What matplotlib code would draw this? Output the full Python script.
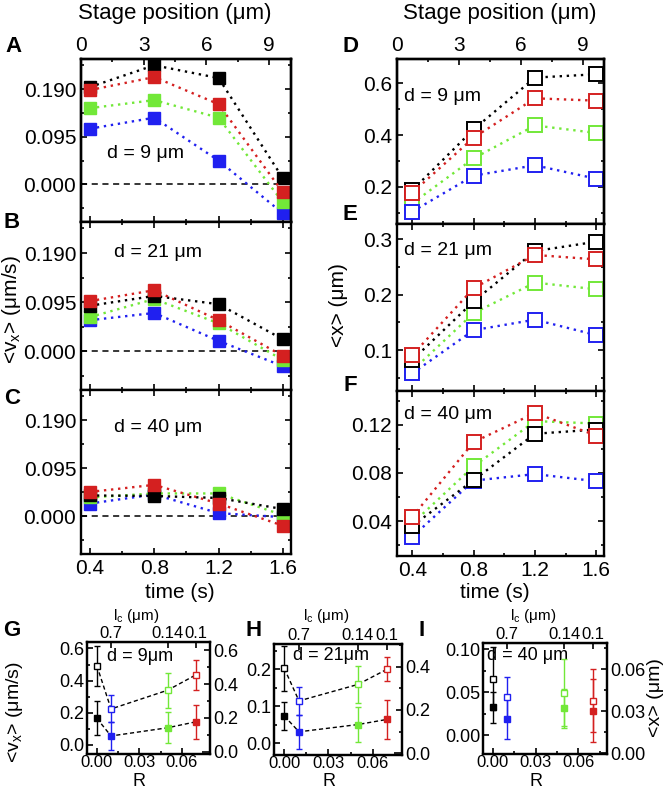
import matplotlib
matplotlib.use("Agg")
import matplotlib.pyplot as plt
from matplotlib.ticker import MultipleLocator

plt.rcParams['font.family'] = ['Liberation Sans', 'DejaVu Sans']
plt.rcParams['mathtext.fontset'] = 'custom'
plt.rcParams['mathtext.rm'] = 'Liberation Sans'
plt.rcParams['mathtext.it'] = 'Liberation Sans:italic'

# ---- data -------------------------------------------------------------
times = [0.4, 0.8, 1.2, 1.6]
series_names = ['blue', 'green', 'black', 'red']

# <vx> (um/s), filled squares, panels A-C
vx_d9 = {'black': [0.194, 0.2375, 0.212, 0.012],
         'red': [0.188, 0.214, 0.160, -0.016],
         'green': [0.152, 0.168, 0.133, -0.036],
         'blue': [0.111, 0.133, 0.0475, -0.058]}
vx_d21 = {'black': [0.088, 0.107, 0.091, 0.023],
          'red': [0.097, 0.118, 0.060, -0.009],
          'green': [0.066, 0.101, 0.054, -0.017],
          'blue': [0.060, 0.074, 0.020, -0.029]}
vx_d40 = {'black': [0.041, 0.040, 0.036, 0.014],
          'red': [0.048, 0.062, 0.025, -0.019],
          'green': [0.037, 0.045, 0.045, 0.002],
          'blue': [0.025, 0.043, 0.006, -0.002]}

# <x> (um), open squares, panels D-F
x_d9 = {'black': [0.187, 0.422, 0.622, 0.635],
        'red': [0.177, 0.390, 0.542, 0.533],
        'green': [0.136, 0.310, 0.437, 0.408],
        'blue': [0.104, 0.243, 0.283, 0.231]}
x_d21 = {'black': [0.082, 0.188, 0.279, 0.296],
         'red': [0.091, 0.212, 0.272, 0.264],
         'green': [0.063, 0.167, 0.222, 0.210],
         'blue': [0.058, 0.136, 0.155, 0.127]}
x_d40 = {'black': [0.036, 0.074, 0.1125, 0.116],
         'red': [0.0436, 0.1056, 0.1297, 0.111],
         'green': [0.038, 0.0855, 0.123, 0.121],
         'blue': [0.027, 0.0736, 0.079, 0.0731]}

# panels G-I : order black, blue, green, red
R = [0.0, 0.01, 0.05, 0.07]
lc_ticks = [0.01, 0.05, 0.07]
lc_labels = ['0.7', '0.14', '0.1']

vx_g = [0.165, 0.056, 0.107, 0.144]
vx_g_err = [0.106, 0.086, 0.097, 0.105]
x_g = [0.509, 0.253, 0.364, 0.455]
x_g_err = [0.120, 0.080, 0.105, 0.087]

vx_h = [0.074, 0.0315, 0.051, 0.065]
vx_h_err = [0.038, 0.045, 0.046, 0.053]
x_h = [0.392, 0.242, 0.318, 0.389]
x_h_err = [0.102, 0.066, 0.087, 0.055]

vx_i = [0.0323, 0.0183, 0.0311, 0.0284]
vx_i_err = [0.018, 0.0233, 0.0225, 0.0366]
x_i = [0.0531, 0.0398, 0.0433, 0.0376]
x_i_err = [0.0226, 0.0145, 0.024, 0.0226]

colors = {'black': '#000000', 'red': '#d42020', 'green': '#72e838', 'blue': '#2020f0'}
bottom_order = ['black', 'blue', 'green', 'red']

W, H = 664, 790
fig = plt.figure(figsize=(W / 100, H / 100), dpi=100)


def box(left, right, top, bottom):
    return [left / W, 1 - bottom / H, (right - left) / W, (bottom - top) / H]


def style(ax, size=15, lw=1.7):
    for s in ax.spines.values():
        s.set_linewidth(lw)
    ax.tick_params(which='both', direction='in', width=1.2, labelsize=size)
    ax.tick_params(which='major', length=4.5)
    ax.tick_params(which='minor', length=2.5)


def stage_axis(ax, xmax):
    top = ax.twiny()
    top.set_xlim(0, xmax)
    top.set_xticks([0, 3, 6, 9])
    top.xaxis.set_minor_locator(MultipleLocator(1.5))
    style(top)
    top.tick_params(pad=3)
    return top


# ---- panels A-C -------------------------------------------------------
left_rows = [(59, 222, vx_d9, 'd = 9 μm', (0.305, 0.42)),
             (222, 390, vx_d21, 'd = 21 μm', (0.367, 0.82)),
             (390, 554, vx_d40, 'd = 40 μm', (0.367, 0.77))]
for k, (t, b, data, lab, pos) in enumerate(left_rows):
    ax = fig.add_axes(box(81, 291, t, b))
    ax.axhline(0, color='k', lw=1.1, ls=(0, (4, 3)), zorder=1)
    for name in series_names:
        ax.plot(times, data[name], ls=(0, (1, 2)), lw=1.7, color=colors[name],
                marker='s', ms=8.5, mec=colors[name], mfc=colors[name])
    ax.set_xlim(0.345, 1.65)
    ax.set_ylim(-0.075, 0.25)
    ax.set_yticks([0.0, 0.095, 0.19])
    ax.set_yticklabels(['0.000', '0.095', '0.190'])
    ax.yaxis.set_minor_locator(MultipleLocator(0.0475))
    ax.set_xticks(times)
    ax.set_xticklabels(['0.4', '0.8', '1.2', '1.6'])
    ax.xaxis.set_minor_locator(MultipleLocator(0.2))
    ax.text(pos[0], pos[1], lab, transform=ax.transAxes, ha='center',
            va='center', fontsize=14)
    if k == 0:
        stage_axis(ax, 10.05)
        style(ax)
        ax.tick_params(which='both', top=False, right=True)
    else:
        style(ax)
        ax.tick_params(which='both', top=True, right=True)
    if k < 2:
        ax.set_xticklabels([])

# ---- panels D-F -------------------------------------------------------
right_rows = [(59, 224, x_d9, 'd = 9 μm', 0.775, (0.056, 0.694),
               [0.2, 0.4, 0.6], 0.1),
              (224, 391, x_d21, 'd = 21 μm', 0.84, (0.026, 0.328),
               [0.1, 0.2, 0.3], 0.05),
              (391, 556, x_d40, 'd = 40 μm', 0.86, (0.011, 0.148),
               [0.04, 0.08, 0.12], 0.02)]
for k, (t, b, data, lab, ty, ylim, yt, ym) in enumerate(right_rows):
    ax = fig.add_axes(box(397, 604, t, b))
    for name in ['green', 'blue', 'black', 'red']:
        ax.plot(times, data[name], ls=(0, (1, 2)), lw=1.7, color=colors[name],
                marker='s', ms=9.5, mec=colors[name], mfc='white', mew=1.4)
    ax.set_xlim(0.30, 1.65)
    ax.set_ylim(*ylim)
    ax.set_yticks(yt)
    ax.set_yticklabels([f'{v:g}' for v in yt])
    ax.yaxis.set_minor_locator(MultipleLocator(ym))
    ax.set_xticks(times)
    ax.set_xticklabels(['0.4', '0.8', '1.2', '1.6'])
    ax.xaxis.set_minor_locator(MultipleLocator(0.2))
    ax.text(0.035, ty, lab, transform=ax.transAxes, ha='left', va='center',
            fontsize=14)
    if k == 0:
        stage_axis(ax, 10.0)
        style(ax)
        ax.tick_params(which='both', top=False, right=True)
    else:
        style(ax)
        ax.tick_params(which='both', top=True, right=True)
    if k < 2:
        ax.set_xticklabels([])

# ---- panels G-I -------------------------------------------------------
bottom_panels = [
    (87, 210, 642, 754, vx_g, vx_g_err, x_g, x_g_err, (-0.056, 0.64),
     (-0.014, 0.65), [0, 0.2, 0.4, 0.6], ['0.0', '0.2', '0.4', '0.6'], 0.1,
     [0, 0.2, 0.4, 0.6], ['0.0', '0.2', '0.4', '0.6'], 0.1,
     'd = 9μm', (0.16, 0.87), True),
    (274, 402, 644, 755, vx_h, vx_h_err, x_h, x_h_err, (-0.031, 0.268),
     (-0.008, 0.505), [0, 0.1, 0.2], ['0.0', '0.1', '0.2'], 0.05,
     [0, 0.2, 0.4], ['0.0', '0.2', '0.4'], 0.1,
     'd = 21μm', (0.15, 0.9), True),
    (483, 607, 643, 754, vx_i, vx_i_err, x_i, x_i_err, (-0.022, 0.107),
     (-0.0005, 0.0786), [0, 0.05, 0.10], ['0.00', '0.05', '0.10'], 0.025,
     [0, 0.03, 0.06], ['0.00', '0.03', '0.06'], 0.015,
     'd = 40 μm', (0.03, 0.885), False),
]
for (l, r, t, b, vx, vxe, xm, xe, yl, yr, ltk, llb, lmin, rtk, rlb, rmin,
     lab, pos, connect) in bottom_panels:
    ax = fig.add_axes(box(l, r, t, b))
    ax2 = ax.twinx()
    if connect:
        ax.plot(R, vx, color='k', lw=1.0, ls=(0, (3, 2)), zorder=1)
        ax2.plot(R, xm, color='k', lw=1.0, ls=(0, (3, 2)), zorder=1)
    for i, name in enumerate(bottom_order):
        c = colors[name]
        ax.errorbar(R[i], vx[i], yerr=vxe[i], fmt='s', color=c, ms=5,
                    mec=c, mfc=c, elinewidth=1.0, capsize=2, capthick=1.0)
        ax2.errorbar(R[i], xm[i], yerr=xe[i], fmt='s', color=c, ms=5,
                     mec=c, mfc='white', mew=1.0, elinewidth=1.0, capsize=2,
                     capthick=1.0)
    ax.set_xlim(-0.007, 0.080)
    ax.set_ylim(*yl)
    ax2.set_ylim(*yr)
    ax.set_xticks([0, 0.03, 0.06])
    ax.set_xticklabels(['0.00', '0.03', '0.06'])
    ax.xaxis.set_minor_locator(MultipleLocator(0.015))
    ax.set_yticks(ltk)
    ax.set_yticklabels(llb)
    ax.yaxis.set_minor_locator(MultipleLocator(lmin))
    ax2.set_yticks(rtk)
    ax2.set_yticklabels(rlb)
    ax2.yaxis.set_minor_locator(MultipleLocator(rmin))
    style(ax, size=13, lw=1.6)
    style(ax2, size=13, lw=1.6)
    ax.tick_params(which='both', top=False, pad=2)
    ax.tick_params(axis='x', pad=1, labelsize=12)
    ax2.tick_params(which='both', pad=2)
    sec = ax.secondary_xaxis('top')
    sec.set_xticks(lc_ticks)
    sec.set_xticklabels(lc_labels)
    sec.tick_params(which='both', direction='in', length=4.5, width=1.2,
                    labelsize=12, pad=1)
    ax.text(pos[0], pos[1], lab, transform=ax.transAxes, ha='left',
            va='center', fontsize=13)
    fig.text((l + r) / 2 / W - 0.018, 1 - 616 / H, r'l$_\mathrm{c}$ (μm)',
             ha='center', va='center', fontsize=11)
    fig.text((l + r) / 2 / W - 0.014, 1 - 781 / H, 'R', ha='center',
             va='center', fontsize=13)

# ---- shared labels ----------------------------------------------------
fig.text(175 / W, 1 - 13 / H, 'Stage position (μm)', ha='center',
         va='center', fontsize=16)
fig.text(500 / W, 1 - 13 / H, 'Stage position (μm)', ha='center',
         va='center', fontsize=16)
fig.text(180 / W, 1 - 593 / H, 'time (s)', ha='center', va='center',
         fontsize=15)
fig.text(495 / W, 1 - 593 / H, 'time (s)', ha='center', va='center',
         fontsize=15)
fig.text(12 / W, 1 - 310 / H, r'<v$_\mathrm{x}$> (μm/s)', rotation=90,
         ha='center', va='center', fontsize=15)
fig.text(339 / W, 1 - 305 / H, '<x> (μm)', rotation=90, ha='center',
         va='center', fontsize=15)
fig.text(15 / W, 1 - 712 / H, r'<v$_\mathrm{x}$> (μm/s)', rotation=90,
         ha='center', va='center', fontsize=14)
fig.text(655 / W, 1 - 698 / H, '<x> (μm)', rotation=90, ha='center',
         va='center', fontsize=14)

letters = [('A', 14, 47), ('B', 12, 222), ('C', 12, 398), ('D', 350, 47),
           ('E', 350, 215), ('F', 350, 386), ('G', 12, 631), ('H', 254, 630),
           ('I', 422, 630)]
for s, x, y in letters:
    fig.text(x / W, 1 - y / H, s, ha='center', va='center', fontsize=16,
             fontweight='bold')

fig.savefig('out.png', dpi=100)
